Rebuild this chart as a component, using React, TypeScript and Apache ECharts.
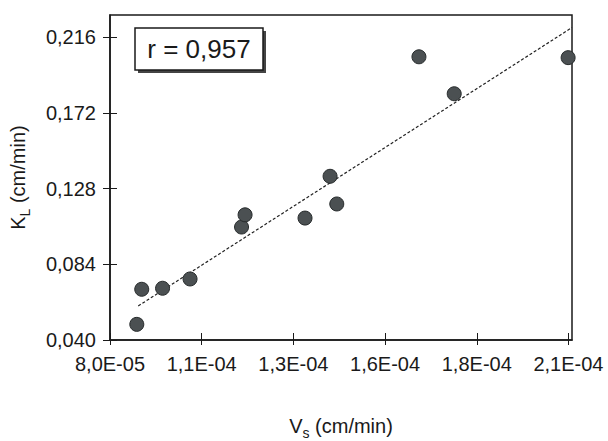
import React, { useEffect, useRef } from "react";
import * as echarts from "echarts";

// Measured points: Vs (cm/min) vs KL (cm/min)
const vsValues = [8.76e-5, 8.9e-5, 9.49e-5, 1.027e-4, 1.173e-4, 1.183e-4, 1.353e-4, 1.424e-4, 1.443e-4, 1.676e-4, 1.776e-4, 2.099e-4];
const klValues = [0.0491, 0.0695, 0.0701, 0.0755, 0.1057, 0.1128, 0.1109, 0.1352, 0.1191, 0.2047, 0.1832, 0.2042];

// Regression line end points
const trendX = [8.8e-5, 2.11e-4];
const trendY = [0.0598, 0.2217];

// Axis ticks
const xTicks = [8.0e-5, 1.06e-4, 1.32e-4, 1.58e-4, 1.84e-4, 2.1e-4];
const yTicks = [0.04, 0.084, 0.128, 0.172, 0.216];
const xRange = [8.0e-5, 2.11e-4];
const yRange = [0.04, 0.229];

const rLabel = "r = 0,957";

const FONT = "'Liberation Sans', Arial, sans-serif";
const INK = "#1a1a1a";

function fmtX(v: number): string {
  const e = Math.floor(Math.log10(v) + 1e-9);
  const m = v / Math.pow(10, e);
  return `${m.toFixed(1).replace(".", ",")}E-${String(-e).padStart(2, "0")}`;
}
function fmtY(v: number): string {
  return v.toFixed(3).replace(".", ",");
}

export default function App() {
  const ref = useRef<HTMLDivElement>(null);
  useEffect(() => {
    if (!ref.current) return;
    const chart = echarts.init(ref.current, null, { renderer: "svg" });
    const scatterData = vsValues.map((x, i) => [x, klValues[i]]);
    const trendData = trendX.map((x, i) => [x, trendY[i]]);

    const titleRich = {
      a: { fontSize: 20, fontFamily: FONT, color: INK, verticalAlign: "bottom", padding: [0, 0, 4, 0] },
      b: { fontSize: 14, fontFamily: FONT, color: INK, verticalAlign: "bottom" },
    };

    const baseX = {
      type: "value",
      min: xRange[0],
      max: xRange[1],
      splitLine: { show: false },
    };
    const baseY = {
      type: "value",
      min: yRange[0],
      max: yRange[1],
      splitLine: { show: false },
    };

    chart.setOption({
      animation: false,
      backgroundColor: "#ffffff",
      grid: {
        left: 110,
        right: 36,
        top: 15,
        bottom: 101,
        show: true,
        borderColor: INK,
        borderWidth: 1.5,
        backgroundColor: "transparent",
        containLabel: false,
        outerBoundsMode: "none",
      },
      xAxis: [
        {
          ...baseX,
          position: "bottom",
          axisLine: { show: true, lineStyle: { color: INK, width: 1.5 } },
          axisTick: { show: true, length: 5, lineStyle: { color: INK, width: 1 }, customValues: xTicks },
          axisLabel: {
            show: true,
            customValues: xTicks,
            formatter: (v: number) => fmtX(v),
            fontSize: 20,
            fontFamily: FONT,
            color: INK,
            margin: 14,
          },
          name: "{a|V}{b|s}{a| (cm/min)}",
          nameLocation: "middle",
          nameGap: 76,
          nameTextStyle: { rich: titleRich },
        },
        {
          ...baseX,
          position: "bottom",
          axisLine: { show: false },
          axisTick: { show: true, inside: true, length: 7, lineStyle: { color: INK, width: 1 }, customValues: xTicks },
          axisLabel: { show: false },
        },
      ],
      yAxis: [
        {
          ...baseY,
          position: "left",
          axisLine: { show: true, lineStyle: { color: INK, width: 1.5 } },
          axisTick: { show: true, length: 7, lineStyle: { color: INK, width: 1 }, customValues: yTicks },
          axisLabel: {
            show: true,
            customValues: yTicks,
            formatter: (v: number) => fmtY(v),
            fontSize: 20,
            fontFamily: FONT,
            color: INK,
            margin: 14,
          },
          name: "{a|K}{b|L}{a| (cm/min)}",
          nameLocation: "middle",
          nameRotate: 90,
          nameGap: 78,
          nameTextStyle: { rich: titleRich },
        },
        {
          ...baseY,
          position: "left",
          axisLine: { show: false },
          axisTick: { show: true, inside: true, length: 7, lineStyle: { color: INK, width: 1 }, customValues: yTicks },
          axisLabel: { show: false },
        },
      ],
      series: [
        {
          type: "line",
          data: trendData,
          xAxisIndex: 0,
          yAxisIndex: 0,
          symbol: "none",
          lineStyle: { color: "#222", width: 1.2, type: [3, 2] },
          z: 2,
        },
        {
          type: "scatter",
          data: scatterData,
          xAxisIndex: 0,
          yAxisIndex: 0,
          symbol: "circle",
          symbolSize: 14,
          itemStyle: { color: "#4b5052", borderColor: "#262a2b", borderWidth: 1, opacity: 1 },
          z: 3,
        },
      ],
      graphic: [
        {
          type: "rect",
          shape: { x: 138, y: 31, width: 128, height: 42 },
          style: { fill: "#444" },
          z: 10,
        },
        {
          type: "rect",
          shape: { x: 135, y: 28, width: 128, height: 42 },
          style: { fill: "#fff", stroke: INK, lineWidth: 1.5 },
          z: 11,
        },
        {
          type: "text",
          x: 199,
          y: 49,
          style: {
            text: rLabel,
            fontSize: 26,
            fontFamily: FONT,
            fill: INK,
            align: "center",
            verticalAlign: "middle",
          },
          z: 12,
        },
      ],
    });
    return () => chart.dispose();
  }, []);
  return (
    <div
      ref={ref}
      style={{ position: "fixed", left: 0, top: 0, width: 608, height: 441, background: "#fff" }}
    />
  );
}
